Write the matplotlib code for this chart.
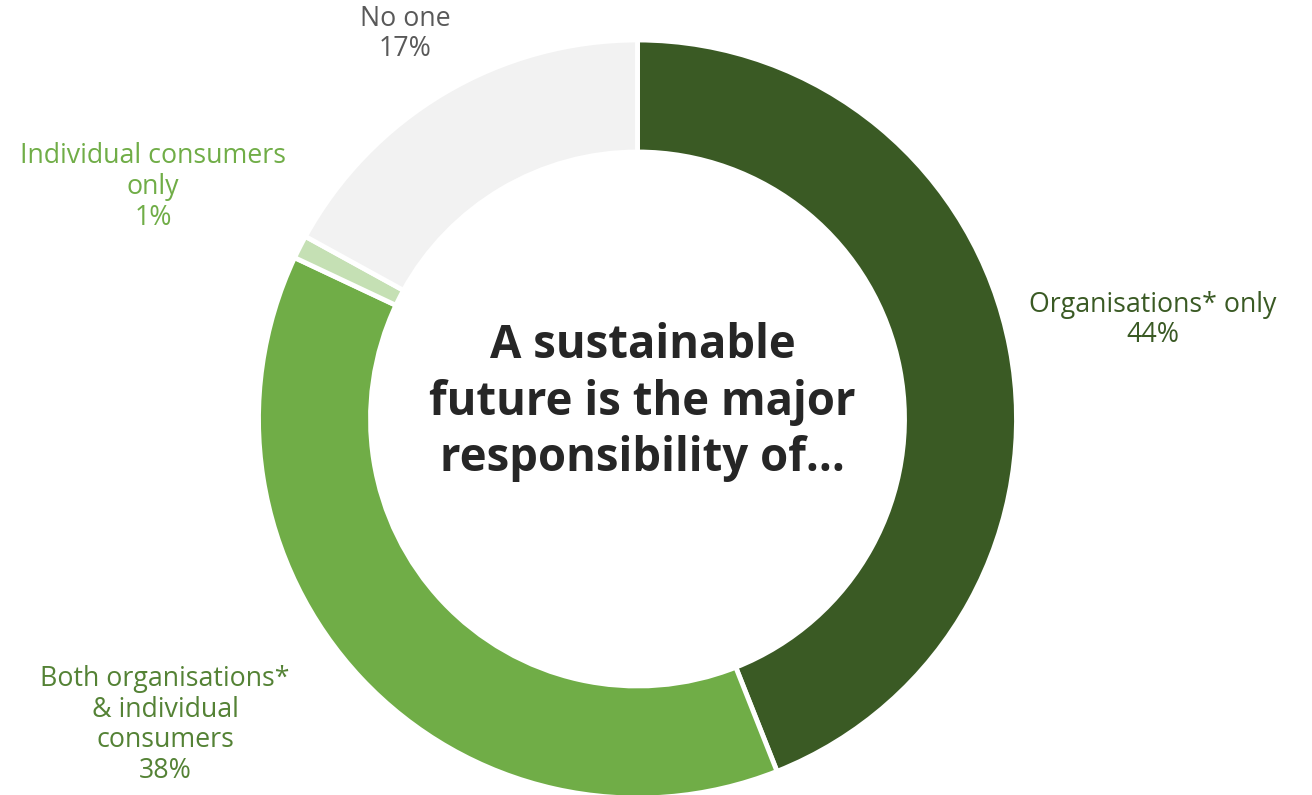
import matplotlib.pyplot as plt

# --- data ---
categories = ["Organisations* only", "Both organisations*\n& individual\nconsumers",
              "Individual consumers\nonly", "No one"]
shares = [44, 38, 1, 17]

# --- styling ---
slice_colors = ["#3A5A24", "#70AD47", "#C5E0B4", "#F2F2F2"]
label_colors = ["#3A5A24", "#548235", "#70AD47", "#595959"]
# label anchor points in pixel space (x, y measured from top)
label_pos = [(1153, 320), (165, 725), (153, 187), (405, 34)]

W, H = 1312, 795
plt.rcParams["font.family"] = ["Open Sans", "DejaVu Sans"]

fig = plt.figure(figsize=(W / 100, H / 100), dpi=100)
ax = fig.add_axes([0, 0, 1, 1])
ax.set_xlim(0, W)
ax.set_ylim(0, H)
ax.set_aspect("equal")
ax.axis("off")

cx, cy = 637.5, H - 419
outer = 379
ring = 112

ax.pie(shares, colors=slice_colors, startangle=90, counterclock=False,
       center=(cx, cy), radius=outer,
       wedgeprops=dict(width=ring, edgecolor="white", linewidth=3.5))
ax.set_xlim(0, W)
ax.set_ylim(0, H)

for name, val, col, (lx, ly) in zip(categories, shares, label_colors, label_pos):
    ax.text(lx, H - ly, f"{name}\n{val}%", ha="center", va="center",
            fontsize=19.3, color=col, linespacing=1.12)

ax.text(cx + 5, H - 402, "A sustainable\nfuture is the major\nresponsibility of…",
        ha="center", va="center", fontsize=32.8, fontweight="bold",
        color="#262626", linespacing=1.27)

fig.savefig("out.png", dpi=100)
